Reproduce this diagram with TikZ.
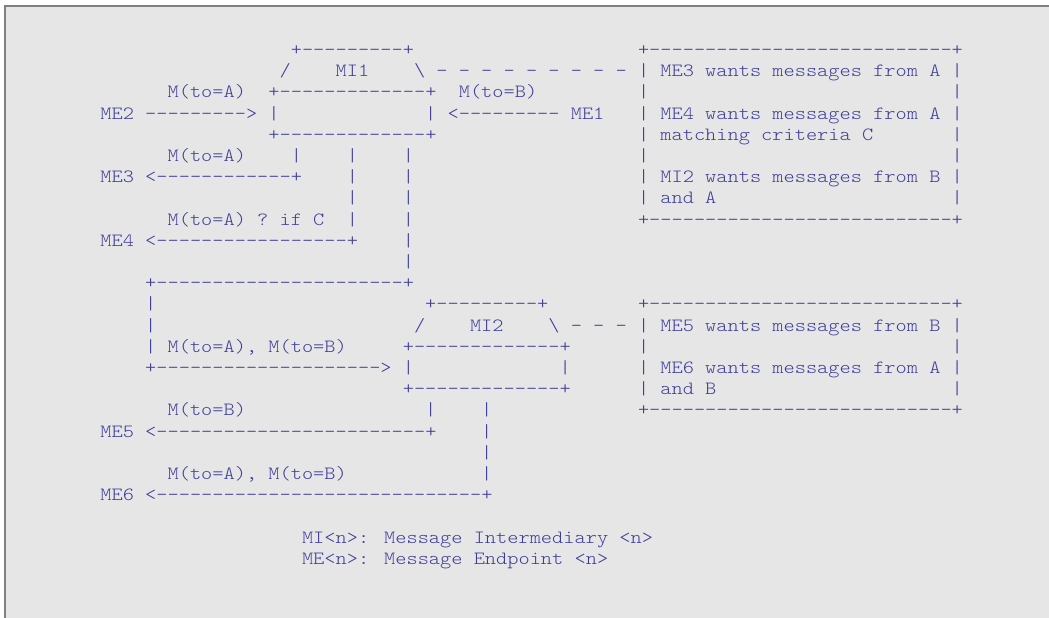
\documentclass[tikz,border=0pt]{standalone}
\usepackage{fontspec}
\newfontfamily\asciifont{lmmonolt10-regular}[Extension=.otf, FakeStretch=1.143, Ligatures=TeXOff]
\definecolor{ink}{RGB}{60,60,155}
\definecolor{paper}{RGB}{230,230,230}
\definecolor{frame}{RGB}{128,128,128}
\tikzset{
  seg/.style={anchor=base west, inner sep=0pt, outer sep=0pt, text=ink,
    font={\asciifont\fontsize{18.67}{21.2}\selectfont}},
}
\begin{document}
\begin{tikzpicture}[x=1pt, y=-1pt]
   \useasboundingbox (0,0) rectangle (1049,618);
   \fill[paper] (5,6) rectangle (1049,618);
   \draw[frame, line width=1.2pt] (5,618) |- (1049,6);
   % column / row / text
   \foreach \c/\r/\t [count=\i] in
     { 17/0/{+---------+}, 48/0/{+---------------------------+},
       16/1/{/}, 21/1/{MI1}, 28/1/{\textbackslash}, 30/1/{- - - - - - - - -},
       48/1/{|}, 50/1/{ME3 wants messages from A}, 76/1/{|},
       6/2/{M(to=A)}, 15/2/{+-------------+}, 32/2/{M(to=B)}, 48/2/{|}, 76/2/{|},
       0/3/{ME2}, 4/3/{--------->}, 15/3/{|}, 29/3/{|}, 31/3/{<---------}, 42/3/{ME1},
       48/3/{|}, 50/3/{ME4 wants messages from A}, 76/3/{|},
       15/4/{+-------------+}, 48/4/{|}, 50/4/{matching criteria C}, 76/4/{|},
       6/5/{M(to=A)}, 17/5/{|}, 22/5/{|}, 27/5/{|}, 48/5/{|}, 76/5/{|},
       0/6/{ME3}, 4/6/{<------------+}, 22/6/{|}, 27/6/{|},
       48/6/{|}, 50/6/{MI2 wants messages from B}, 76/6/{|},
       22/7/{|}, 27/7/{|}, 48/7/{|}, 50/7/{and A}, 76/7/{|},
       6/8/{M(to=A) ? if C}, 22/8/{|}, 27/8/{|}, 48/8/{+---------------------------+},
       0/9/{ME4}, 4/9/{<-----------------+}, 27/9/{|},
       27/10/{|},
       4/11/{+----------------------+},
       4/12/{|}, 29/12/{+---------+}, 48/12/{+---------------------------+},
       4/13/{|}, 28/13/{/}, 33/13/{MI2}, 40/13/{\textbackslash}, 42/13/{- - -},
       48/13/{|}, 50/13/{ME5 wants messages from B}, 76/13/{|},
       4/14/{|}, 6/14/{M(to=A), M(to=B)}, 27/14/{+-------------+}, 48/14/{|}, 76/14/{|},
       4/15/{+-------------------->}, 27/15/{|}, 41/15/{|},
       48/15/{|}, 50/15/{ME6 wants messages from A}, 76/15/{|},
       27/16/{+-------------+}, 48/16/{|}, 50/16/{and B}, 76/16/{|},
       6/17/{M(to=B)}, 29/17/{|}, 34/17/{|}, 48/17/{+---------------------------+},
       0/18/{ME5}, 4/18/{<------------------------+}, 34/18/{|},
       34/19/{|},
       6/20/{M(to=A), M(to=B)}, 34/20/{|},
       0/21/{ME6}, 4/21/{<-----------------------------+},
       18/23/{MI<n>: Message Intermediary <n>},
       18/24/{ME<n>: Message Endpoint <n>}
     }
     \node[seg] (t\i) at ({100.4+11.2*\c},{55.5+21.2*\r}) {\t};
\end{tikzpicture}
\end{document}
